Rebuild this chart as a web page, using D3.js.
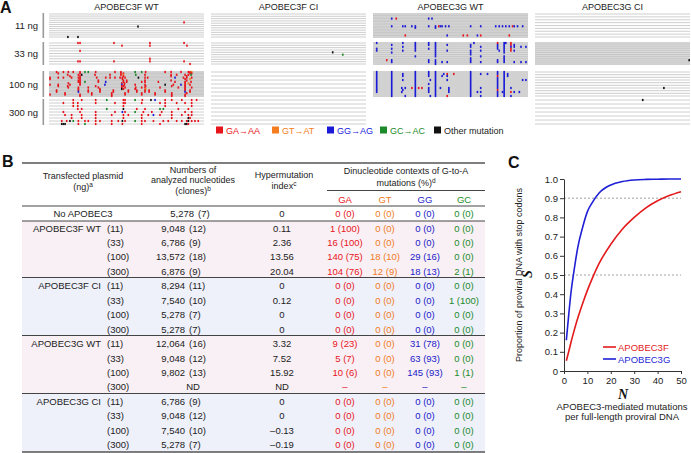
<!DOCTYPE html>
<html>
<head>
<meta charset="utf-8">
<script src="https://cdnjs.cloudflare.com/ajax/libs/d3/7.8.5/d3.min.js"></script>
<style>
  html, body { margin: 0; padding: 0; background: #fff; }
  svg { display: block; font-family: "Liberation Sans", Arial, sans-serif; }
</style>
</head>
<body>
<svg id="fig" width="691" height="453"></svg>
<script>
'use strict';

// ---- data -------------------------------------------------------------
var constructs = ['APOBEC3F WT', 'APOBEC3F CI', 'APOBEC3G WT', 'APOBEC3G CI'];
var doses = ['11 ng', '33 ng', '100 ng', '300 ng'];
var tableDoses = ['(11)', '(33)', '(100)', '(300)'];

// clones per construct / dose (0 = not determined)
var cloneCounts = [[12, 9, 18, 9], [11, 10, 7, 7], [16, 12, 13, 0], [9, 12, 10, 7]];
var shadedBlocks = [[0, 0, 1, 0], [0, 0, 0, 0], [1, 1, 1, 0], [0, 1, 0, 0]];
var cloneLength = 754; // nt per clone

var legendTypes = ['a', 't', 'g', 'c', 'x'];
var legendLabels = ['GA\u2192AA', 'GT\u2192AT', 'GG\u2192AG', 'GC\u2192AC', 'Other mutation'];

// mutations: [clone, position (nt), type]
var fwt11 = [[5, 657, 'a'], [7, 433, 'x'], [12, 92, 'x'], [12, 141, 'x']];
var fwt33 = [
  [1, 141, 'a'], [1, 151, 'a'], [1, 316, 'a'], [1, 491, 'a'], [1, 657, 'a'],
  [2, 355, 'a'], [2, 491, 'a'], [2, 671, 'a'], [4, 151, 'a'], [7, 491, 'a'],
  [8, 141, 'a'], [8, 151, 'a'], [8, 316, 'a'], [8, 491, 'a'], [8, 657, 'a'], [9, 686, 'a']
];
var fwt100 = [
  [1, 37, 'a'], [1, 70, 'a'], [1, 94, 'a'], [1, 118, 'a'], [1, 151, 'a'], [1, 175, 'c'], [1, 191, 'c'], [1, 227, 'a'], [1, 321, 'a'], [1, 350, 'a'], [1, 419, 'c'], [1, 451, 'c'], [1, 470, 'a'], [1, 565, 'a'], [1, 594, 'a'], [1, 642, 'a'], [1, 678, 'a'], [1, 686, 'a'], [1, 694, 't'],
  [2, 45, 'a'], [2, 151, 'a'], [2, 350, 'a'], [2, 362, 'a'], [2, 686, 'a'], [2, 694, 'a'],
  [3, 91, 'a'], [3, 143, 'a'], [3, 159, 'x'], [3, 224, 'a'], [3, 297, 'a'], [3, 350, 'a'], [3, 362, 't'], [3, 422, 'c'], [3, 467, 'a'], [3, 594, 'a'], [3, 621, 'a'], [3, 662, 'a'], [3, 678, 'a'], [3, 691, 'c'],
  [4, 102, 'a'], [4, 151, 'a'], [4, 362, 'a'], [4, 594, 'a'], [4, 670, 'a'],
  [5, 5, 'a'], [5, 45, 'a'], [5, 70, 'a'], [5, 110, 'a'], [5, 143, 'a'], [5, 151, 'a'], [5, 232, 'a'], [5, 276, 'a'], [5, 297, 'a'], [5, 321, 'a'], [5, 346, 'a'], [5, 357, 'a'], [5, 370, 'a'], [5, 435, 'x'], [5, 467, 'a'], [5, 480, 'a'], [5, 613, 'g'], [5, 654, 'a'], [5, 670, 'a'], [5, 694, 'a'],
  [6, 5, 'a'], [6, 151, 'a'], [6, 357, 'a'], [6, 662, 'a'], [6, 686, 't'],
  [7, 143, 'a'], [7, 151, 'a'], [7, 240, 'a'], [7, 362, 'a'], [7, 378, 'a'], [7, 467, 'a'], [7, 594, 'a'], [7, 670, 'a'],
  [8, 143, 'a'], [8, 151, 'a'], [8, 175, 'c'], [8, 240, 'a'], [8, 276, 'g'], [8, 362, 'a'], [8, 378, 'a'], [8, 451, 'a'], [8, 467, 'a'], [8, 532, 'a'], [8, 613, 'a'], [8, 662, 'a'], [8, 691, 'a'],
  [9, 94, 'a'], [9, 151, 'a'], [9, 354, 'a'], [9, 367, 'a'], [9, 662, 'a'], [9, 678, 't'],
  [10, 5, 'a'], [10, 45, 'a'], [10, 102, 'a'], [10, 151, 'a'], [10, 272, 'g'], [10, 354, 'g'], [10, 367, 'a'], [10, 419, 'a'], [10, 467, 'a'], [10, 565, 'x'], [10, 605, 'a'], [10, 642, 'g'], [10, 662, 'a'], [10, 686, 'a'],
  [11, 45, 'a'], [11, 91, 'a'], [11, 227, 'a'], [11, 354, 'a'], [11, 362, 'a'], [11, 470, 'a'], [11, 597, 'a'], [11, 662, 'a'],
  [12, 94, 'a'], [12, 143, 'a'], [12, 191, 'a'], [12, 240, 'a'], [12, 354, 'a'], [12, 370, 'a'], [12, 422, 'a'], [12, 451, 'a'], [12, 467, 'a'], [12, 540, 'a'], [12, 629, 'a'], [12, 662, 'a'], [12, 694, 'a'],
  [13, 143, 'a'], [13, 248, 'a'], [13, 354, 'x'], [13, 362, 'a'], [13, 419, 'a'], [13, 470, 't'], [13, 662, 'a'],
  [14, 37, 'a'], [14, 143, 'a'], [14, 191, 'a'], [14, 248, 'a'], [14, 313, 'a'], [14, 386, 'a'], [14, 427, 'a'], [14, 467, 'a'], [14, 487, 'a'], [14, 565, 'a'], [14, 662, 'a'], [14, 686, 'a'],
  [15, 37, 'a'], [15, 143, 'g'], [15, 191, 'a'], [15, 248, 'a'], [15, 313, 'a'], [15, 386, 'a'], [15, 427, 'a'], [15, 467, 'a'], [15, 487, 'a'], [15, 565, 'a'], [15, 662, 'g'], [15, 686, 'a'],
  [16, 78, 'a'], [16, 208, 'a'], [16, 305, 'a'], [16, 370, 'a'], [16, 451, 'a'], [16, 516, 'a'], [16, 597, 'a'], [16, 670, 'a'],
  [17, 5, 'a'], [17, 78, 'a'], [17, 151, 'a'], [17, 208, 'a'], [17, 305, 'a'], [17, 370, 'a'], [17, 451, 'a'], [17, 516, 'a'], [17, 597, 'a'], [17, 662, 'a'],
  [18, 151, 'a'], [18, 305, 'a'], [18, 597, 'a'], [18, 662, 'a']
];
var fwt300 = [
  [1, 118, 'a'], [1, 159, 'a'], [1, 227, 'a'], [1, 281, 'c'], [1, 362, 'a'], [1, 370, 'a'], [1, 419, 'c'], [1, 454, 'a'], [1, 496, 'x'], [1, 516, 'g'], [1, 565, 'a'], [1, 597, 'a'], [1, 646, 'a'], [1, 694, 'a'], [1, 718, 'a'],
  [2, 70, 'a'], [2, 118, 'a'], [2, 140, 'a'], [2, 227, 'a'], [2, 321, 'a'], [2, 362, 'a'], [2, 370, 'a'], [2, 451, 'a'], [2, 540, 'a'], [2, 565, 'a'], [2, 621, 'a'], [2, 662, 'a'], [2, 694, 'a'],
  [3, 118, 'a'], [3, 140, 'a'], [3, 362, 'a'], [3, 565, 'a'], [3, 694, 'a'],
  [4, 140, 'a'], [4, 159, 'a'], [4, 281, 'c'], [4, 362, 'x'], [4, 427, 'a'], [4, 467, 'a'], [4, 540, 'c'], [4, 556, 'c'], [4, 629, 'a'], [4, 678, 'a'],
  [5, 70, 'a'], [5, 151, 'a'], [5, 227, 'a'], [5, 321, 'a'], [5, 357, 'g'], [5, 370, 'a'], [5, 419, 'c'], [5, 459, 'a'], [5, 500, 'a'], [5, 548, 'a'], [5, 597, 'a'], [5, 662, 'a'], [5, 694, 'a'],
  [6, 78, 'a'], [6, 110, 'a'], [6, 159, 'a'], [6, 227, 'a'], [6, 305, 'a'], [6, 362, 'a'], [6, 386, 'a'], [6, 451, 'a'], [6, 483, 'a'], [6, 508, 'g'], [6, 540, 'a'], [6, 597, 'a'], [6, 646, 'a'], [6, 678, 'a'], [6, 694, 'a'],
  [7, 110, 'a'], [7, 159, 'a'], [7, 227, 'a'], [7, 362, 'a'], [7, 451, 'a'], [7, 597, 'a'], [7, 678, 'x'], [7, 686, 'a'],
  [8, 62, 'a'], [8, 86, 'a'], [8, 102, 'x'], [8, 118, 'c'], [8, 143, 'a'], [8, 175, 'a'], [8, 191, 'a'], [8, 227, 'a'], [8, 248, 'a'], [8, 305, 'a'], [8, 337, 'a'], [8, 357, 'x'], [8, 370, 'a'], [8, 419, 'c'], [8, 451, 'a'], [8, 467, 'a'], [8, 508, 'a'], [8, 556, 'a'], [8, 580, 'a'], [8, 621, 'a'], [8, 646, 'a'], [8, 670, 'a'], [8, 678, 'x'], [8, 694, 'a'], [8, 710, 'a'], [8, 726, 'a'],
  [9, 62, 'x'], [9, 70, 'x'], [9, 78, 'x'], [9, 143, 'a'], [9, 175, 'c'], [9, 227, 'a'], [9, 305, 'a'], [9, 357, 'a'], [9, 451, 'a'], [9, 540, 'a'], [9, 662, 'x'], [9, 670, 'x'], [9, 678, 'a']
];
var fci33 = [[5, 592, 'x'], [6, 641, 'c']];
var gwt11 = [
  [4, 91, 'g'], [4, 113, 'a'], [4, 271, 'g'], [4, 287, 'g'],
  [9, 91, 'g'], [9, 145, 'g'], [9, 157, 'g'], [9, 189, 'g'], [9, 206, 'g'], [9, 271, 'g'], [9, 304, 'g'], [9, 320, 'a'], [9, 328, 'g'], [9, 336, 'g'], [9, 353, 'g'], [9, 369, 'g'], [9, 475, 'g'], [9, 524, 'g'], [9, 597, 'g'], [9, 614, 'g'], [9, 630, 'g'], [9, 646, 'g'], [9, 663, 'g'], [9, 679, 'a'], [9, 687, 'g'], [9, 703, 'g'], [9, 728, 'g'],
  [10, 206, 'g'], [10, 304, 'g'],
  [15, 157, 'a'], [15, 361, 'g'], [15, 439, 'a'], [15, 459, 'a'], [15, 508, 'g'], [15, 524, 'a'], [15, 663, 'a']
];
var gwt33 = [
  [1, 18, 'g'], [1, 145, 'g'], [1, 206, 'g'], [1, 271, 'g'], [1, 304, 'g'], [1, 491, 'g'], [1, 606, 'a'], [1, 638, 'g'], [1, 646, 'g'], [1, 671, 'a'],
  [2, 91, 'g'], [2, 206, 'g'], [2, 271, 'g'], [2, 304, 'g'], [2, 361, 'g'], [2, 475, 'g'], [2, 606, 'g'], [2, 638, 'g'], [2, 671, 'a'], [2, 687, 'g'],
  [3, 145, 'g'], [3, 206, 'g'], [3, 304, 'g'], [3, 475, 'g'], [3, 524, 'g'], [3, 606, 'g'], [3, 638, 'g'], [3, 671, 'g'], [3, 687, 'g'], [3, 720, 'g'], [3, 744, 'g'],
  [4, 18, 'g'], [4, 91, 'g'], [4, 206, 'g'], [4, 271, 'g'], [4, 304, 'g'], [4, 606, 'g'], [4, 638, 'g'], [4, 671, 'a'],
  [5, 18, 'g'], [5, 145, 'g'], [5, 206, 'g'], [5, 304, 'g'], [5, 361, 'g'], [5, 475, 'g'], [5, 524, 'g'], [5, 614, 'g'], [5, 638, 'g'], [5, 671, 'a'], [5, 687, 'g'],
  [6, 91, 'g'], [6, 304, 'g'], [6, 475, 'g'], [6, 638, 'g'],
  [7, 304, 'g'], [7, 475, 'g'],
  [8, 206, 'g'], [8, 304, 'g'], [8, 524, 'g'], [8, 638, 'g'],
  [9, 475, 'g'], [9, 638, 'g'],
  [10, 67, 'a'], [10, 91, 'g'], [10, 271, 'g'], [10, 304, 'g'], [10, 475, 'g'], [10, 606, 'g'], [10, 638, 'g'],
  [11, 91, 'g'], [11, 271, 'g'], [11, 304, 'g'], [11, 336, 'g'], [11, 361, 'g'], [11, 475, 'g'], [11, 524, 'g'], [11, 606, 'g'], [11, 638, 'g'], [11, 687, 'g'], [11, 720, 'g'], [11, 744, 'g'],
  [12, 304, 'g']
];
var gwt100 = [
  [1, 18, 'g'], [1, 91, 'g'], [1, 206, 'g'], [1, 271, 'g'], [1, 304, 'g'], [1, 475, 'g'], [1, 606, 'g'], [1, 638, 'g'],
  [2, 18, 'g'], [2, 91, 'g'], [2, 145, 'g'], [2, 206, 'g'], [2, 271, 'g'], [2, 304, 'g'], [2, 344, 'g'], [2, 361, 'a'], [2, 393, 'a'], [2, 475, 'g'], [2, 524, 'g'], [2, 557, 'g'], [2, 606, 'g'], [2, 638, 'g'], [2, 655, 'g'],
  [3, 18, 'g'], [3, 91, 'g'], [3, 145, 'g'], [3, 206, 'g'], [3, 271, 'g'], [3, 304, 'g'], [3, 336, 'g'], [3, 361, 'g'], [3, 475, 'g'], [3, 606, 'a'], [3, 638, 'g'], [3, 655, 'g'],
  [4, 18, 'g'], [4, 91, 'g'], [4, 206, 'g'], [4, 304, 'g'], [4, 475, 'g'], [4, 606, 'g'], [4, 638, 'g'],
  [5, 18, 'g'], [5, 91, 'g'], [5, 145, 'g'], [5, 206, 'g'], [5, 279, 'g'], [5, 304, 'g'], [5, 361, 'g'], [5, 475, 'g'], [5, 606, 'g'], [5, 638, 'g'], [5, 728, 'g'], [5, 744, 'g'],
  [6, 18, 'g'], [6, 91, 'g'], [6, 206, 'g'], [6, 304, 'g'], [6, 475, 'g'], [6, 606, 'g'], [6, 638, 'g'],
  [7, 18, 'g'], [7, 91, 'g'], [7, 206, 'g'], [7, 271, 'g'], [7, 304, 'g'], [7, 475, 'g'], [7, 606, 'g'], [7, 638, 'g'],
  [8, 18, 'g'], [8, 91, 'g'], [8, 206, 'g'], [8, 304, 'g'], [8, 475, 'g'], [8, 606, 'g'], [8, 638, 'g'],
  [9, 18, 'g'], [9, 91, 'g'], [9, 140, 'g'], [9, 157, 'g'], [9, 189, 'a'], [9, 206, 'g'], [9, 222, 'a'], [9, 238, 'a'], [9, 271, 'g'], [9, 304, 'g'], [9, 328, 'g'], [9, 369, 'g'], [9, 475, 'g'], [9, 524, 'g'], [9, 606, 'g'], [9, 638, 'g'], [9, 671, 'g'],
  [10, 18, 'g'], [10, 91, 'g'], [10, 145, 'g'], [10, 206, 'g'], [10, 271, 'g'], [10, 304, 'g'], [10, 369, 'g'], [10, 475, 'g'], [10, 606, 'a'], [10, 638, 'g'],
  [11, 18, 'g'], [11, 91, 'g'], [11, 140, 'g'], [11, 206, 'g'], [11, 271, 'g'], [11, 304, 'g'], [11, 369, 'g'], [11, 475, 'g'], [11, 508, 'g'], [11, 524, 'g'], [11, 606, 'g'], [11, 630, 'g'], [11, 638, 'g'], [11, 671, 'a'], [11, 687, 'g'], [11, 712, 'g'],
  [12, 91, 'g'], [12, 206, 'g'], [12, 304, 'g'], [12, 475, 'g'], [12, 606, 'g'], [12, 638, 'g'],
  [13, 91, 'g'], [13, 157, 'g'], [13, 206, 'g'], [13, 279, 'g'], [13, 304, 'g'], [13, 361, 'a'], [13, 475, 'g'], [13, 524, 'g'], [13, 606, 'g'], [13, 638, 'g'], [13, 671, 'g']
];
var gci33 = [[10, 750, 'x']];
var gci100 = [[7, 627, 'x']];
var gci300 = [[1, 524, 'x']];

var mutationBlocks = [
  [fwt11, fwt33, fwt100, fwt300],
  [[], fci33, [], []],
  [gwt11, gwt33, gwt100, []],
  [[], gci33, gci100, gci300]
];

// table B
var noA3Nucleotides = 5278, noA3Clones = 7, noA3Index = 0;
var nucleotides = [[9048, 6786, 13572, 6876], [8294, 7540, 5278, 5278], [12064, 9048, 9802, null], [6786, 9048, 7540, 5278]];
var hyperIndex = [[0.11, 2.36, 13.56, 20.04], [0, 0.12, 0, 0], [3.32, 7.52, 15.92, null], [0, 0, -0.13, -0.19]];
var dinucNames = ['GA', 'GT', 'GG', 'GC'];
var dinucGA = [[[1, 100], [16, 100], [140, 75], [104, 76]], [[0, 0], [0, 0], [0, 0], [0, 0]], [[9, 23], [5, 7], [10, 6], null], [[0, 0], [0, 0], [0, 0], [0, 0]]];
var dinucGT = [[[0, 0], [0, 0], [18, 10], [12, 9]], [[0, 0], [0, 0], [0, 0], [0, 0]], [[0, 0], [0, 0], [0, 0], null], [[0, 0], [0, 0], [0, 0], [0, 0]]];
var dinucGG = [[[0, 0], [0, 0], [29, 16], [18, 13]], [[0, 0], [0, 0], [0, 0], [0, 0]], [[31, 78], [63, 93], [145, 93], null], [[0, 0], [0, 0], [0, 0], [0, 0]]];
var dinucGC = [[[0, 0], [0, 0], [0, 0], [2, 1]], [[0, 0], [1, 100], [0, 0], [0, 0]], [[0, 0], [0, 0], [1, 1], null], [[0, 0], [0, 0], [0, 0], [0, 0]]];

// panel C, values
var mutationsN = [1, 2, 3, 4, 5, 6, 8, 10, 12, 15, 20, 25, 30, 35, 40, 45, 50];
var stopA3F = [0.053, 0.10, 0.15, 0.196, 0.24, 0.28, 0.353, 0.42, 0.48, 0.56, 0.66, 0.74, 0.80, 0.85, 0.887, 0.914, 0.934];
var stopA3G = [0.16, 0.29, 0.41, 0.50, 0.58, 0.65, 0.75, 0.83, 0.876, 0.927, 0.969, 0.987, 0.995, 0.998, 0.999, 1.0, 1.0];
var curveNames = ['APOBEC3F', 'APOBEC3G'];

// ---- drawing ----------------------------------------------------------
var svg = d3.select('#fig');
svg.append('rect').attr('width', 691).attr('height', 453).attr('fill', '#fff');

var mutColor = { a: '#e8141c', t: '#f47d20', g: '#1a1ad8', c: '#1c8a2a', x: '#111' };
var dinucColor = ['#e8141c', '#f07a1e', '#2222c8', '#1c8a2a'];

function panelLetter(txt, x, y) {
  svg.append('text').attr('x', x).attr('y', y).text(txt)
    .attr('font-size', 16).attr('font-weight', 'bold').attr('fill', '#111');
}

// ---------- panel A ----------
panelLetter('A', 0, 13);
var colLeft = [49, 211, 373, 535], colWidth = 155;
var blockTop = [14, 43, 72, 100], blockH = [23, 21, 24, 24];
var A = svg.append('g');

constructs.forEach(function (name, c) {
  A.append('text').attr('x', colLeft[c] + colWidth / 2).attr('y', 10)
    .attr('text-anchor', 'middle').attr('font-size', 9).attr('fill', '#222').text(name);

  var xPos = d3.scaleLinear().domain([0, cloneLength]).range([colLeft[c], colLeft[c] + colWidth]);

  doses.forEach(function (dose, d) {
    var n = cloneCounts[c][d];
    if (!n) { return; }
    var yClone = d3.scaleLinear().domain([1, n]).range([blockTop[d], blockTop[d] + blockH[d]]);
    var g = A.append('g');
    if (shadedBlocks[c][d]) {
      g.append('rect').attr('x', colLeft[c]).attr('y', blockTop[d] - 1)
        .attr('width', colWidth).attr('height', blockH[d] + 2).attr('fill', '#dcdcdc');
    }
    g.selectAll('line').data(d3.range(1, n + 1)).enter().append('line')
      .attr('x1', colLeft[c]).attr('x2', colLeft[c] + colWidth)
      .attr('y1', function (k) { return yClone(k); })
      .attr('y2', function (k) { return yClone(k); })
      .attr('stroke', shadedBlocks[c][d] ? '#c4c4c4' : '#c8c8c8').attr('stroke-width', 0.9);
    g.selectAll('rect.mut').data(mutationBlocks[c][d]).enter().append('rect')
      .attr('class', 'mut')
      .attr('x', function (m) { return xPos(m[1]) - 0.8; })
      .attr('y', function (m) { return yClone(m[0]) - 1.1; })
      .attr('width', 1.6).attr('height', 2.2)
      .attr('fill', function (m) { return mutColor[m[2]]; });
  });
});

doses.forEach(function (dose, d) {
  A.append('rect').attr('x', 42.5).attr('y', blockTop[d] - 1).attr('width', 1.6)
    .attr('height', blockH[d] + 2).attr('fill', '#9a9a9a');
  A.append('text').attr('x', 38).attr('y', blockTop[d] + blockH[d] / 2 + 3.5)
    .attr('text-anchor', 'end').attr('font-size', 9.5).attr('fill', '#222').text(dose);
});

var legendX = [216, 272, 327, 380, 434];
legendTypes.forEach(function (t, i) {
  A.append('rect').attr('x', legendX[i]).attr('y', 126.5).attr('width', 7).attr('height', 7)
    .attr('fill', mutColor[t]);
  A.append('text').attr('x', legendX[i] + 10).attr('y', 133.5).attr('font-size', 9)
    .attr('fill', t === 'x' ? '#222' : mutColor[t]).text(legendLabels[i]);
});

// ---------- panel B ----------
panelLetter('B', 2, 167);
var B = svg.append('g').attr('font-size', 9.5).attr('fill', '#222');
var tL = 22, tR = 485;
var colIdx = 282, colDinuc = [345, 385, 425, 464];
var seps = [221, 277.5, 335.5, 393.5, 452];
var groupFill = ['#f8f0f4', '#eef0fa', '#f8f0f4', '#eef0fa'];

function rowY(i) { return 231.5 + i * 14.45; }
function fmtIndex(v) {
  if (v === null) { return 'ND'; }
  if (v === 0) { return '0'; }
  return v < 0 ? '\u2013' + Math.abs(v).toFixed(2) : v.toFixed(2);
}
function fmtCell(v) { return v === null ? '\u2013' : v[0] + ' (' + v[1] + ')'; }
var fmtComma = d3.format(',');

constructs.forEach(function (name, g) {
  B.append('rect').attr('x', tL).attr('y', seps[g]).attr('width', tR - tL)
    .attr('height', seps[g + 1] - seps[g]).attr('fill', groupFill[g]);
});

function hline(y, w, col) {
  B.append('line').attr('x1', tL).attr('x2', tR).attr('y1', y).attr('y2', y)
    .attr('stroke', col).attr('stroke-width', w);
}

function txt(x, y, s, anchor, fill) {
  return B.append('text').attr('x', x).attr('y', y).attr('text-anchor', anchor || 'middle')
    .attr('fill', fill || '#222').text(s);
}

function supText(x, y, main, sup) {
  var t = B.append('text').attr('x', x).attr('y', y).attr('text-anchor', 'middle');
  t.append('tspan').text(main);
  t.append('tspan').attr('dy', -3).attr('font-size', 6.5).text(sup);
}

// header (a bit smaller than the body so three lines fit)
var H = B.append('g').attr('font-size', 9);
function htxt(x, y, s) {
  return H.append('text').attr('x', x).attr('y', y).attr('text-anchor', 'middle').text(s);
}
function hsup(x, y, main, sup) {
  var t = H.append('text').attr('x', x).attr('y', y).attr('text-anchor', 'middle');
  t.append('tspan').text(main);
  t.append('tspan').attr('dy', -3).attr('font-size', 6.5).text(sup);
}
htxt(83, 179, 'Transfected plasmid');
hsup(83, 190, '(ng)', 'a');
htxt(193, 172.5, 'Numbers of');
htxt(193, 183, 'analyzed nucleotides');
hsup(193, 194, '(clones)', 'b');
htxt(284, 178, 'Hypermutation');
hsup(284, 189, 'index', 'c');
htxt(406, 174, 'Dinucleotide contexts of G-to-A');
hsup(406, 185.5, 'mutations (%)', 'd');
B.append('line').attr('x1', 327).attr('x2', tR).attr('y1', 190.5).attr('y2', 190.5)
  .attr('stroke', '#444').attr('stroke-width', 1);
dinucNames.forEach(function (n, k) { txt(colDinuc[k], 202.5, n, 'middle', dinucColor[k]); });

// no APOBEC3 row
txt(83, 217, 'No APOBEC3');
txt(194, 217, fmtComma(noA3Nucleotides), 'end');
txt(198, 217, '(' + noA3Clones + ')', 'start');
txt(colIdx, 217, fmtIndex(noA3Index));
dinucNames.forEach(function (n, k) { txt(colDinuc[k], 217, '0 (0)', 'middle', dinucColor[k]); });

var dinucAll = [dinucGA, dinucGT, dinucGG, dinucGC];
constructs.forEach(function (name, g) {
  tableDoses.forEach(function (dose, d) {
    var y = rowY(g * 4 + d);
    if (d === 0) { txt(101, y, name, 'end'); }
    txt(107, y, dose, 'start');
    if (nucleotides[g][d] === null) {
      txt(193, y, 'ND');
    } else {
      txt(185, y, fmtComma(nucleotides[g][d]), 'end');
      txt(189, y, '(' + cloneCounts[g][d] + ')', 'start');
    }
    txt(colIdx, y, fmtIndex(hyperIndex[g][d]));
    dinucAll.forEach(function (arr, k) { txt(colDinuc[k], y, fmtCell(arr[g][d]), 'middle', dinucColor[k]); });
  });
});

hline(163, 1.6, '#555');
hline(206, 1, '#444');
hline(221, 1, '#444');
hline(277.5, 1, '#444');
hline(335.5, 1, '#444');
hline(393.5, 1, '#444');
hline(452, 1.6, '#555');

// ---------- panel C ----------
panelLetter('C', 508, 168);
var C = svg.append('g');
var x = d3.scaleLinear().domain([0, 50]).range([564, 681]);
var y = d3.scaleLinear().domain([0, 1]).range([371, 179]);

[0.9, 0.5].forEach(function (v) {
  C.append('line').attr('x1', x(0)).attr('x2', x(50)).attr('y1', y(v)).attr('y2', y(v))
    .attr('stroke', '#888').attr('stroke-width', 0.8).attr('stroke-dasharray', '2,2');
});

var yAxis = C.append('g').attr('transform', 'translate(' + x(0) + ',0)')
  .call(d3.axisLeft(y).tickValues(d3.range(0, 11).map(function (k) { return k / 10; }))
    .tickSize(4).tickSizeOuter(0).tickPadding(2)
    .tickFormat(function (d) { return d === 0 ? '0' : d3.format('.1f')(d); }));
var xAxis = C.append('g').attr('transform', 'translate(0,' + y(0) + ')')
  .call(d3.axisBottom(x).tickValues([0, 10, 20, 30, 40, 50]).tickSize(3).tickSizeOuter(0).tickPadding(3));
[yAxis, xAxis].forEach(function (ax) {
  ax.attr('font-family', 'Liberation Sans, Arial, sans-serif').attr('font-size', 9.5);
  ax.selectAll('path, line').attr('stroke', '#333');
  ax.selectAll('text').attr('fill', '#222');
});

var line = d3.line()
  .x(function (d) { return x(d[0]); })
  .y(function (d) { return y(d[1]); })
  .curve(d3.curveMonotoneX);
var series = [stopA3F, stopA3G];
var seriesColor = ['#e31a1c', '#1f1fd6'];
series.forEach(function (vals, s) {
  C.append('path').datum(d3.zip(mutationsN, vals)).attr('d', line)
    .attr('fill', 'none').attr('stroke', seriesColor[s]).attr('stroke-width', 1.6);
  C.append('line').attr('x1', 603).attr('x2', 616).attr('y1', 347 + s * 12).attr('y2', 347 + s * 12)
    .attr('stroke', seriesColor[s]).attr('stroke-width', 1.6);
  C.append('text').attr('x', 618).attr('y', 350.5 + s * 12).attr('font-size', 9.5)
    .attr('fill', seriesColor[s]).text(curveNames[s]);
});

C.append('text').attr('transform', 'translate(522,275) rotate(-90)').attr('text-anchor', 'middle')
  .attr('font-size', 9).attr('fill', '#222').text('Proportion of proviral DNA with stop codons');
C.append('text').attr('transform', 'translate(532,274) rotate(-90)').attr('text-anchor', 'middle')
  .attr('font-family', 'Liberation Serif, Times New Roman, serif').attr('font-style', 'italic')
  .attr('font-weight', 'bold').attr('font-size', 14).attr('fill', '#111').text('S');
C.append('text').attr('x', 623).attr('y', 399).attr('text-anchor', 'middle')
  .attr('font-family', 'Liberation Serif, Times New Roman, serif').attr('font-style', 'italic')
  .attr('font-weight', 'bold').attr('font-size', 14).attr('fill', '#111').text('N');
C.append('text').attr('x', 622).attr('y', 410).attr('text-anchor', 'middle').attr('font-size', 9.5)
  .attr('fill', '#222').text('APOBEC3-mediated mutations');
C.append('text').attr('x', 622).attr('y', 420).attr('text-anchor', 'middle').attr('font-size', 9.5)
  .attr('fill', '#222').text('per full-length proviral DNA');
</script>
</body>
</html>
